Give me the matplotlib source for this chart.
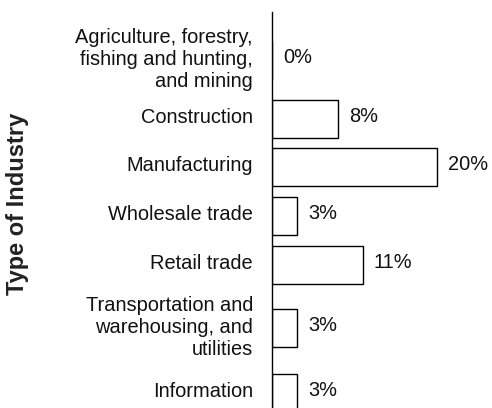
import matplotlib
matplotlib.use("Agg")
import matplotlib.pyplot as plt
from matplotlib.transforms import ScaledTranslation

# Share of businesses by type of industry (%)
industries = [
    "Agriculture, forestry,\nfishing and hunting,\nand mining",
    "Construction",
    "Manufacturing",
    "Wholesale trade",
    "Retail trade",
    "Transportation and\nwarehousing, and\nutilities",
    "Information",
]
shares = [0, 8, 20, 3, 11, 3, 3]
share_labels = ["0%", "8%", "20%", "3%", "11%", "3%", "3%"]

# layout: row centres (pixels from the top of the figure)
row_pos = [60, 119, 167, 216, 265, 328, 393]

plt.rcParams["font.family"] = ["Liberation Sans", "DejaVu Sans"]

W, H = 492, 408
fig = plt.figure(figsize=(W / 100, H / 100), dpi=100)
ax_left = 272
ax_top = 12
px_per_pct = 8.25
ax = fig.add_axes([ax_left / W, 0, 1 - ax_left / W, (H - ax_top) / H])

ax.barh(row_pos, shares, height=37.5, color="white",
        edgecolor="black", linewidth=1.0)

ax.set_ylim(H, ax_top)
ax.set_xlim(0, (W - ax_left) / px_per_pct)

# value labels just past each bar
for y, v, lab in zip(row_pos, shares, share_labels):
    ax.annotate(lab, (v, y), xytext=(8, 2), textcoords="offset points",
                ha="left", va="center", fontsize=14.4, color="#111111")

ax.set_yticks(row_pos, labels=industries)
ax.tick_params(axis="y", length=0, pad=13.7, labelsize=14.4,
               labelcolor="#111111")
ax.set_xticks([])

# category names sit a little above the bar centre, like the values
lift = ScaledTranslation(0, 2.6 / 72, fig.dpi_scale_trans)
for lab in ax.get_yticklabels():
    lab.set_transform(lab.get_transform() + lift)

for side in ["top", "right", "bottom"]:
    ax.spines[side].set_visible(False)
ax.spines["left"].set_linewidth(1.0)
ax.spines["left"].set_color("black")

fig.text(18 / W, 1 - 204 / H, "Type of Industry", rotation=90,
         ha="center", va="center", fontsize=17, fontweight="bold",
         color="#222222")

fig.savefig("out.png", dpi=100)
